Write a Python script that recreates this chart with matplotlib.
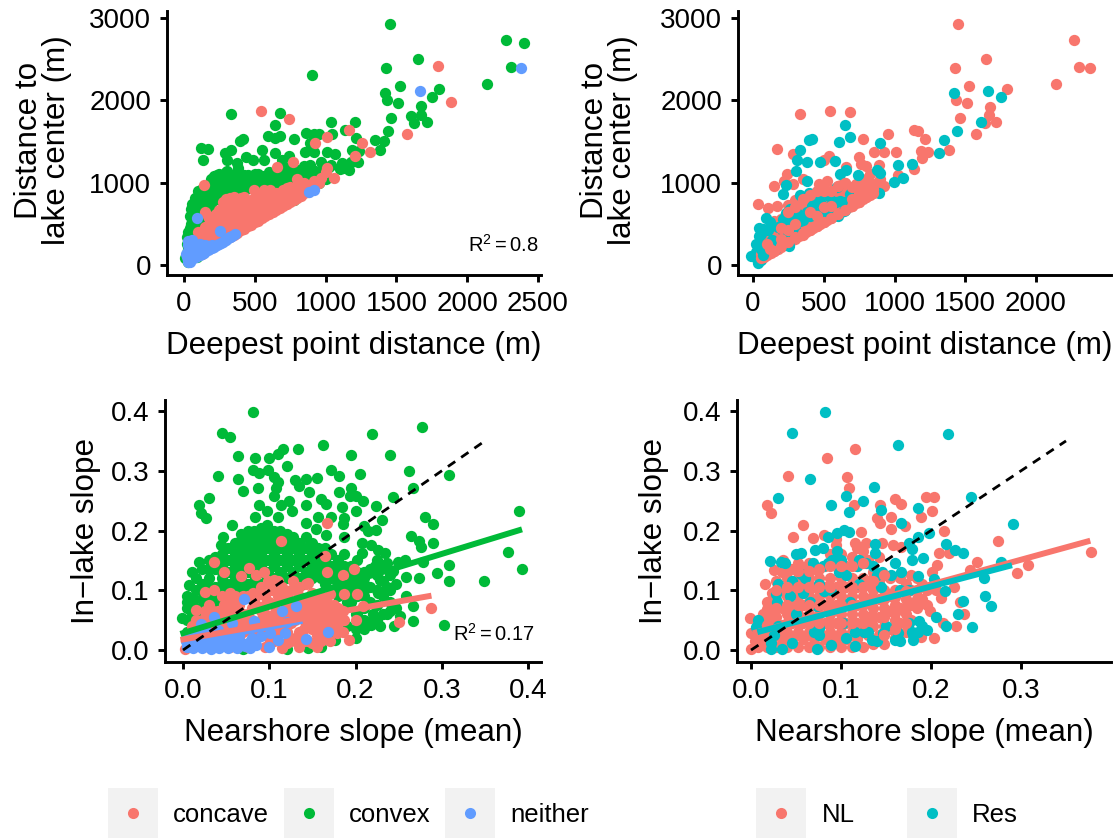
import matplotlib
matplotlib.use("Agg")
import matplotlib.pyplot as plt
from matplotlib.patches import Rectangle

plt.rcParams['font.family'] = ['Liberation Sans', 'DejaVu Sans']
plt.rcParams['mathtext.fontset'] = 'custom'
plt.rcParams['mathtext.rm'] = 'Liberation Sans'

RED, GREEN, BLUE, TEAL = '#F8766D', '#00BA38', '#619CFF', '#00BFC4'

# ---- top-left: deepest point distance vs distance to lake centre, by shape
convex_a = [(1452,2923),(2272,2730),(2404,2694),(1652,2500),(2307,2407),(1424,2387),(901,2302),(2140,2198),(1525,2177),(1799,2133),
 (1421,2093),(1754,2044),(1437,2008),(1510,1964),(1675,1931),(330,1831),(680,1851),(1602,1815),(1675,1823),(1464,1786),
 (1038,1742),(1211,1742),(1716,1738),(1627,1722),(645,1702),(1444,1633),(1135,1641),(865,1609),(921,1589),(952,1589),
 (1048,1589),(596,1569),(680,1569),(642,1540),(774,1528),(414,1536),(393,1512),(1216,1540),(1348,1520),(1414,1512),
 (117,1427),(173,1415),(332,1399),(553,1403),(891,1480),(1386,1403),(642,1359),(855,1367),(921,1367),(1013,1367),
 (1066,1351),(1188,1391),(1239,1379),(287,1359),(135,1278),(307,1278),(439,1311),(376,1238),(490,1278),(566,1278),
 (739,1319),(693,1278),(967,1246),(1036,1218),(1119,1238),(891,1210),(1231,1250),(1124,1177),(1162,1157),(302,1137),
 (236,1097),(383,1177),(490,1077),(566,1077),
 (20,150),(20,250),(20,340),(40,300),(40,450),(40,600),(60,400),(60,530),(60,620),(60,740),
 (100,500),(100,620),(100,750),(100,900),(130,700),(130,800),(130,920),(170,650),(170,780),(170,880),
 (210,870),(210,980),(210,1080),(250,880),(250,1000),(250,1100),(300,950),(300,1060),(300,1130),(350,900),
 (350,1000),(350,1090),(400,950),(400,1040),(450,930),(450,1030),(450,1090),(500,950),(500,1050),(500,1100),
 (550,980),(550,1060),(600,960),(600,1040),(600,1130),(650,950),(650,1060),(650,1140),(700,980),(700,1100),
 (700,1200),(750,1000),(750,1080),(750,1180),(800,1100),(800,1160),(850,1050),(850,1130),(850,1200),(900,1000),
 (900,1120),(950,1000),(950,1100),(780,790),(690,780),(10,90),(30,40),(90,100),(1000,1050),(1140,1220)]
convex_a_fill = [(30,200),(30,400),(50,350),(50,500),(50,680),(80,450),(80,560),(80,680),(80,820),(115,560),
 (115,680),(115,820),(150,700),(150,840),(190,720),(190,830),(190,950),(190,1050),(230,800),(230,930),
 (230,1040),(270,850),(270,950),(270,1060),(320,880),(320,1000),(320,1100),(375,950),(375,1040),(425,900),
 (425,1000),(425,1090),(475,980),(475,1060),(525,930),(525,1020),(525,1100),(575,1000),(575,1080),(625,1000),
 (625,1090),(675,1010),(675,1100),(725,1030),(725,1140),(775,1040),(775,1130),(825,1010),(825,1090),(875,1080),
 (875,1160),(925,1060),(925,1140),(975,1150),(1025,1190),(1100,1170),(1150,1200),(1180,1250)]
concave_a = [(543,1867),(744,1778),(1794,2423),(1886,1976),(1162,1641),(1013,1552),(926,1476),(1254,1480),(1315,1367),(1206,1327),
 (1576,1593),(769,1250),(657,1190),(140,968),(799,1044),(1061,1060),(495,915),(566,907),(604,907),(1000,1130),
 (970,1060),(950,1000),(1010,1180),(920,1020),(900,950),
 (100,120),(100,220),(100,320),(100,400),(150,170),(150,260),(150,360),(150,460),(150,650),(170,590),
 (200,220),(200,320),(200,420),(200,520),(250,270),(250,370),(250,470),(250,570),(250,670),(300,320),
 (300,420),(300,520),(300,620),(300,720),(300,800),(350,370),(350,470),(350,570),(350,670),(350,770),
 (350,830),(400,420),(400,520),(400,620),(400,720),(400,820),(450,470),(450,570),(450,670),(450,770),
 (500,520),(500,620),(500,720),(500,810),(550,570),(550,670),(550,770),(550,850),(600,620),(600,720),
 (600,820),(600,880),(650,670),(650,770),(650,870),(700,720),(700,820),(700,910),(750,770),(750,870),
 (750,950),(800,820),(800,910),(800,960),(850,870),(850,950),(850,1000)]
concave_a_fill = [(125,140),(125,230),(125,330),(175,190),(175,290),(175,390),(175,490),(175,570),(225,240),(225,340),
 (225,440),(225,540),(225,620),(275,290),(275,390),(275,490),(275,590),(275,690),(275,770),(325,340),
 (325,440),(325,540),(325,640),(325,740),(325,810),(375,390),(375,490),(375,590),(375,690),(375,790),
 (425,440),(425,540),(425,640),(425,740),(425,830),(475,490),(475,590),(475,690),(475,790),(525,540),
 (525,640),(525,740),(525,830),(575,590),(575,690),(575,790),(575,860),(625,640),(625,740),(625,840),
 (675,690),(675,790),(675,880),(725,740),(725,840),(725,930),(775,790),(775,880),(775,940),(825,840),
 (825,930),(875,890),(875,970)]
neither_a = [(2383,2387),(1665,2117),(89,573),(254,411),(363,379),(325,343),(881,883),(921,915),
 (20,100),(25,60),(30,40),(40,40),(40,100),(40,190),(35,280),(60,70),(60,130),(60,200),(60,270),(85,95),
 (85,160),(85,230),(110,120),(110,190),(110,260),(140,150),(140,220),(170,180),(170,235),(200,210),
 (200,240),(230,240),(260,265),(290,300),(310,325),(340,350)]
neither_a_fill = [(15,130),(30,80),(30,170),(30,240),(45,70),(45,150),(50,230),(70,100),(70,180),(70,250),
 (100,130),(100,210),(125,140),(125,200),(150,165),(150,240),(180,190),(215,225),(245,250),(275,285),
 (300,310),(325,345),(45,290),(60,300),(30,290)]

# ---- top-right: same axes, by lake type
res_b_low = [(30,70),(30,120),(20,160),(60,60),(60,140),(40,230),(55,300),(90,350),(90,200),(120,300),(-17,109),(32,28)]
nl_b = [(1450,2923),(2268,2730),(2307,2407),(2382,2387),(1650,2500),(1425,2387),(2139,2198),(1524,2177),(1797,2133),(1437,2004),
 (1509,1964),(1673,1923),(330,1831),(545,1867),(682,1855),(1462,1782),(1668,1823),(1717,1738),(1638,1722),(1135,1641),
 (1167,1633),(954,1589),(1579,1593),(1217,1536),(776,1528),(173,1415),(1385,1403),(857,1367),(924,1367),(1014,1367),
 (1239,1367),(1185,1379),(280,1351),(540,1319),(503,1270),(751,1311),(1197,1298),(763,1230),(801,1206),(887,1210),
 (657,1185),(1140,1169),(243,1105),(1024,1093),(825,1109),(354,1048),(221,1016),(280,988),(146,964),(520,1024),
 (466,984),(37,742),(107,694),(173,714),
 (60,90),(60,140),(100,120),(100,210),(100,330),(150,170),(150,270),(150,400),(150,540),(200,220),
 (200,330),(200,450),(200,560),(250,270),(250,380),(250,500),(250,620),(250,730),(300,320),(300,430),
 (300,540),(300,660),(300,790),(350,370),(350,480),(350,600),(350,720),(350,820),(400,420),(400,530),
 (400,650),(400,760),(400,850),(450,470),(450,580),(450,700),(450,810),(500,520),(500,630),(500,750),
 (500,860),(550,570),(550,680),(550,800),(550,900),(600,620),(600,730),(600,850),(600,960),(650,670),
 (650,780),(650,900),(650,1000),(700,720),(700,830),(700,950),(750,770),(750,880),(750,1000),(800,830),
 (800,930),(800,1040),(850,880),(850,990),(900,950),(900,1040)]
nl_b_fill = [(75,100),(75,170),(125,150),(125,250),(125,370),(175,200),(175,300),(175,430),(175,510),(225,250),
 (225,360),(225,480),(225,590),(275,300),(275,410),(275,530),(275,650),(325,350),(325,460),(325,580),
 (325,700),(375,400),(375,510),(375,640),(375,760),(425,450),(425,560),(425,690),(425,800),(475,500),
 (475,610),(475,730),(475,840),(525,550),(525,660),(525,780),(525,880),(575,600),(575,710),(575,830),
 (575,920),(625,650),(625,760),(625,880),(625,970),(675,700),(675,810),(675,930),(725,750),(725,860),
 (725,980),(775,800),(775,910),(775,1010),(825,850),(825,960),(875,900),(875,1000),(925,960)]
res_b = [(1663,2117),(1423,2093),(1752,2044),(1608,1742),(647,1702),(1442,1633),(682,1560),(419,1528),(399,1520),(607,1500),
 (1348,1520),(895,1480),(330,1399),(1311,1359),(312,1278),(379,1250),(473,1250),(577,1258),(1028,1218),(1123,1230),
 (305,1137),(657,1157),(615,1105),(739,1097),(875,1157),(900,1117),(379,1024),(230,972),(994,1008),(1063,1052),
 (597,944),(211,863),(330,855),(399,875),(471,867),(538,835),(689,863),(441,774),(617,774),(652,673),
 (528,673),(533,593),(230,633),(94,573),(354,552),(255,512),(40,448),(107,431),(211,411),(20,250),
 (69,117),(131,310),(330,532),(156,190),(255,230),(887,875)]
res_b_fill = [(60,200),(45,350),(60,380),(70,440),(120,520),(130,470),(180,460),(210,560),(240,590),(260,560),
 (280,640),(290,500),(320,620),(380,640),(400,600),(420,720),(470,760),(480,650),(520,700),(600,600),
 (640,660),(590,760),(650,760),(260,680),(300,440),(200,300),(250,400),(100,260),(710,850),(700,890)]
nl_b_top = [(400,420),(450,470),(500,520),(550,570),(600,620),(650,670),(700,720),(750,770),(800,830),(300,340),
 (250,280),(200,230),(150,170),(350,390),(700,800),(750,880),(800,930),(850,920),(850,880),(800,1000),
 (600,960),(550,900),(500,900),(450,900),(650,1000),(700,950),(200,450),(250,650),(300,700),(350,800),
 (400,850),(100,260),(120,200),(500,700),(450,600),(400,640),(550,720),(300,500),(250,420),(200,320)]

# ---- bottom-left: nearshore vs in-lake slope, by shape
convex_c = [(.081,.398),(.045,.364),(.055,.357),(.277,.374),(.219,.361),(.162,.343),(.133,.336),(.116,.336),(.110,.328),(.064,.325),
 (.084,.321),(.100,.321),(.195,.326),(.240,.326),(.121,.308),(.172,.302),(.262,.300),(.081,.302),(.098,.302),(.088,.297),
 (.041,.292),(.205,.295),(.181,.291),(.308,.293),(.064,.287),(.106,.290),(.143,.287),(.155,.288),(.130,.284),(.110,.282),
 (.070,.267),(.087,.271),(.108,.271),(.135,.274),(.146,.265),(.195,.271),(.181,.264),(.267,.272),(.105,.257),(.030,.255),
 (.193,.257),(.201,.257),(.209,.250),(.123,.250),(.243,.256),(.160,.252),(.166,.245),(.018,.243),(.088,.243),(.114,.243),
 (.143,.243),(.224,.241),(.184,.239),(.390,.233),(.126,.233),(.097,.232),(.200,.233),(.021,.230),(.027,.221),(.083,.223),
 (.110,.223),(.156,.222),(.172,.223),(.187,.221),(.280,.222),(.231,.217),(.142,.213),(.290,.211),(.186,.211),(.057,.209),
 (.154,.202),(.210,.208),(.224,.201),(.214,.200),(.166,.193),(.264,.191),(.046,.189),(.187,.190),(.274,.183),(.290,.179),
 (.208,.180),(.044,.175),(.218,.176),(.276,.172),(.377,.164),(.226,.168),(.234,.163),(.208,.162),(.278,.147),(.257,.151),
 (.249,.147),(.308,.143),(.393,.135),(.295,.129),(.236,.145),(.243,.133),(.222,.140),(.258,.123),(.274,.120),(.349,.116),
 (.308,.115),(.228,.118),(.236,.106),(.259,.091),(.226,.095),(.267,.073),(.252,.057),(.267,.049),(.245,.040),(.302,.042),
 (.228,.041),(.218,.042),(.236,.061),(.220,.061),(.205,.042),(.201,.020),(.176,.017),(.019,.148),(.010,.130),(.007,.109),
 (.005,.080),(-.001,.053),
 (.005,.030),(.005,.050),(.005,.070),(.005,.090),(.015,.040),(.015,.070),(.015,.100),(.015,.120),(.030,.060),(.030,.090),
 (.030,.120),(.030,.150),(.045,.080),(.045,.100),(.045,.120),(.045,.140),(.045,.160),(.060,.100),(.060,.120),(.060,.140),
 (.060,.160),(.060,.180),(.075,.110),(.075,.130),(.075,.150),(.075,.170),(.075,.190),(.075,.200),(.090,.110),(.090,.130),
 (.090,.150),(.090,.170),(.090,.190),(.090,.205),(.105,.120),(.105,.140),(.105,.160),(.105,.180),(.105,.200),(.120,.120),
 (.120,.140),(.120,.160),(.120,.180),(.120,.195),(.135,.120),(.135,.140),(.135,.160),(.135,.180),(.150,.120),(.150,.140),
 (.150,.160),(.150,.180),(.165,.110),(.165,.130),(.165,.150),(.165,.170),(.180,.090),(.180,.110),(.180,.130),(.180,.150),
 (.195,.080),(.195,.100),(.195,.120),(.195,.140),(.210,.050),(.210,.070),(.210,.090),(.210,.110),(.210,.130),(.225,.050),
 (.225,.075),(.225,.100),(.225,.125),(.225,.150),(.240,.080),(.240,.100),(.240,.125),(.240,.065),(.068,.140),(.083,.160),
 (.098,.170),(.083,.120),(.098,.130),(.068,.170),(.083,.185),(.113,.150),(.128,.150),(.143,.170),(.143,.130),(.158,.145),
 (.120,.002),(.160,.005),(.145,.004),(.070,.002)]
convex_c_fill = [(.012,.050),(.012,.085),(.022,.055),(.022,.085),(.022,.110),(.022,.135),(.037,.075),(.037,.105),(.037,.135),(.037,.155),
 (.052,.090),(.052,.110),(.052,.130),(.052,.150),(.052,.170),(.067,.100),(.067,.120),(.067,.155),(.067,.185),(.067,.195),
 (.082,.110),(.082,.140),(.082,.150),(.082,.175),(.082,.200),(.097,.120),(.097,.150),(.097,.180),(.097,.195),(.097,.210),
 (.112,.130),(.112,.170),(.112,.190),(.112,.200),(.127,.130),(.127,.170),(.127,.190),(.142,.150),(.142,.190),(.142,.120),
 (.157,.130),(.157,.170),(.157,.155),(.172,.120),(.172,.140),(.172,.160),(.187,.100),(.187,.120),(.187,.140),(.187,.160),
 (.202,.060),(.202,.090),(.202,.110),(.202,.130),(.202,.150),(.217,.045),(.217,.080),(.217,.105),(.217,.135),(.232,.060),
 (.232,.090),(.232,.115),(.232,.140),(.247,.070),(.247,.110),(.190,.040),(.200,.035),(.210,.035),(.200,.060),(.190,.080),
 (.060,.150),(.075,.140),(.075,.160),(.075,.180),(.090,.140),(.090,.160),(.090,.180),(.090,.200),(.105,.150),(.105,.170),
 (.105,.190),(.120,.150),(.120,.170),(.120,.190),(.135,.150),(.135,.170),(.150,.130),(.150,.150),(.150,.170),(.060,.130),
 (.060,.110),(.045,.110),(.045,.130),(.045,.150),(.030,.105),(.030,.135),(.165,.140),(.165,.160),(.180,.100),(.180,.120),
 (.180,.140),(.195,.090),(.195,.110),(.195,.130),(.210,.100),(.210,.120),(.010,.060),(.020,.070),(.020,.100),(.035,.090),
 (.050,.095),(.065,.110),(.125,.120),(.140,.110),(.160,.120),(.100,.110),(.115,.125),(.080,.100)]
concave_c = [(.167,.213),(.114,.182),(.036,.147),(.048,.130),(.076,.137),(.094,.130),(.067,.124),(.165,.158),(.167,.131),(.198,.136),
 (.185,.125),(.145,.113),(.202,.094),(.187,.094),(.170,.094),(.209,.074),(.288,.070),(.250,.047),(.200,.051),(.187,.051),
 (.192,.017),(.178,.028),(.026,.097),(.036,.101),(.048,.076),(.015,.067),(.127,.115),(.106,.118),(.081,.095),(.143,.111),
 (.085,.125),(.098,.115),(.115,.105),(.122,.095),(.103,.100),
 (.002,.002),(.008,.020),(.010,.040),(.020,.010),(.020,.030),(.022,.050),(.030,.005),(.030,.025),(.030,.055),(.040,.015),
 (.040,.040),(.040,.065),(.055,.005),(.055,.030),(.055,.060),(.055,.080),(.065,.018),(.065,.045),(.065,.075),(.075,.005),
 (.075,.035),(.075,.060),(.085,.018),(.085,.045),(.085,.075),(.095,.005),(.095,.030),(.095,.060),(.095,.090),(.105,.015),
 (.105,.045),(.105,.075),(.115,.003),(.115,.030),(.115,.060),(.115,.090),(.125,.015),(.125,.045),(.125,.075),(.135,.005),
 (.135,.030),(.135,.060),(.135,.090),(.145,.015),(.145,.040),(.145,.065),(.145,.085),(.155,.005),(.155,.025),(.155,.045),
 (.155,.065),(.155,.085),(.165,.025),(.165,.045),(.165,.065),(.165,.085),(.175,.040),(.175,.060),(.175,.075),(.185,.030),
 (.185,.050),(.185,.065)]
concave_c_fill = [(.010,.010),(.015,.050),(.025,.018),(.025,.040),(.035,.012),(.035,.040),(.035,.065),(.045,.025),(.048,.052),(.050,.072),
 (.060,.015),(.060,.045),(.060,.070),(.070,.030),(.070,.060),(.080,.012),(.080,.050),(.080,.070),(.090,.035),(.090,.065),
 (.100,.020),(.100,.050),(.100,.080),(.110,.030),(.110,.060),(.110,.090),(.120,.012),(.120,.045),(.120,.075),(.130,.020),
 (.130,.050),(.130,.080),(.140,.015),(.140,.050),(.140,.080),(.150,.012),(.150,.035),(.150,.055),(.150,.075),(.150,.095),
 (.160,.015),(.160,.035),(.160,.055),(.160,.075),(.160,.090),(.170,.015),(.170,.035),(.170,.055),(.170,.075),(.180,.035),
 (.180,.050),(.180,.070),(.125,.100),(.135,.105),(.110,.115),(.090,.105),(.070,.090),(.100,.110),
 (.030,.075),(.045,.090),(.055,.095),(.060,.090),(.025,.065),(.015,.030),(.085,.090),(.075,.090),(.090,.050),(.100,.035),
 (.110,.045),(.120,.030),(.130,.065),(.125,.060),(.140,.065),(.140,.035),(.105,.060),(.095,.075),(.080,.030),(.070,.045),
 (.060,.030),(.050,.040),(.045,.060),(.035,.030)]
neither_c = [(.071,.086),(.115,.065),(.131,.074),(.082,.049),(.057,.045),(.036,.055),(.021,.043),(.040,.034),(.120,.047),(.118,.028),
 (.168,.030),(.143,.018),(.100,.005),(.110,.017),(.077,.012),(.090,.023),(.101,.028),
 (.003,.015),(.005,.005),(.012,.003),(.014,.015),(.022,.003),(.024,.013),(.032,.002),(.034,.012),(.042,.003),(.045,.013),
 (.052,.004),(.055,.015),(.062,.004),(.066,.014),(.072,.006),(.078,.003),(.084,.016),(.030,.025),(.047,.024),
 (.008,.010),(.018,.008),(.028,.010),(.038,.008),(.048,.008),(.058,.010),(.068,.008),(.075,.012),(.085,.008),(.005,.020),
 (.012,.028),(.022,.025),(.035,.020),(.055,.025),(.065,.025),(.080,.020),(.025,.035)]

# ---- bottom-right: same axes, by lake type
nl_d = [(.378,.164),(.116,.337),(.084,.321),(.041,.292),(.107,.290),(.109,.272),(.018,.243),(.022,.229),(.114,.242),(.160,.253),
 (.167,.245),(.143,.243),(.194,.256),(.203,.256),(.201,.233),(.189,.223),(.140,.221),(.156,.222),(.143,.212),(.171,.208),
 (.155,.202),(.058,.209),(.214,.200),(.047,.189),(.069,.187),(.081,.193),(.122,.198),(.094,.186),(.115,.179),(.128,.179),
 (.146,.179),(.158,.176),(.167,.173),(.274,.183),(.209,.162),(.220,.162),(.251,.148),(.308,.143),(.296,.129),(.243,.134),
 (.207,.143),(.201,.131),(.226,.106),(.211,.087),(.232,.080),(.237,.060),(.199,.065),(.213,.045),(.228,.041),(.203,.020),
 (.189,.022),(-.001,.053),(.016,.111),(.026,.134),(.036,.151),
 (.000,.002),(.000,.028),(.008,.005),(.008,.030),(.008,.045),(.018,.005),(.018,.030),(.018,.055),(.018,.080),(.028,.005),
 (.028,.030),(.028,.055),(.028,.085),(.028,.115),(.040,.005),(.040,.030),(.040,.060),(.040,.090),(.040,.120),(.052,.005),
 (.052,.030),(.052,.060),(.052,.090),(.052,.120),(.052,.145),(.064,.005),(.064,.030),(.064,.060),(.064,.090),(.064,.120),
 (.064,.145),(.076,.005),(.076,.030),(.076,.060),(.076,.090),(.076,.120),(.088,.005),(.088,.030),(.088,.060),(.088,.090),
 (.088,.120),(.088,.160),(.100,.005),(.100,.030),(.100,.060),(.100,.090),(.100,.120),(.100,.160),(.112,.005),(.112,.030),
 (.112,.060),(.112,.090),(.112,.120),(.112,.155),(.124,.005),(.124,.030),(.124,.060),(.124,.090),(.124,.120),(.124,.165),
 (.136,.010),(.136,.040),(.136,.070),(.136,.100),(.136,.130),(.148,.010),(.148,.040),(.148,.070),(.148,.100),(.160,.020),
 (.160,.050),(.160,.075),(.160,.100),(.172,.030),(.172,.060),(.172,.085),(.172,.110),(.184,.070),(.184,.100),(.184,.120),
 (.196,.075),(.196,.100),(.206,.100)]
nl_d_fill = [(.004,.015),(.013,.018),(.013,.042),(.013,.060),(.023,.018),(.023,.042),(.023,.068),(.023,.095),(.034,.018),(.034,.042),
 (.034,.070),(.034,.100),(.034,.130),(.046,.018),(.046,.045),(.046,.075),(.046,.105),(.046,.135),(.058,.018),(.058,.045),
 (.058,.075),(.058,.105),(.058,.135),(.070,.018),(.070,.045),(.070,.075),(.070,.105),(.070,.135),(.082,.018),(.082,.045),
 (.082,.075),(.082,.105),(.082,.140),(.094,.018),(.094,.045),(.094,.075),(.094,.105),(.094,.140),(.094,.175),(.106,.018),
 (.106,.045),(.106,.075),(.106,.105),(.106,.140),(.118,.018),(.118,.045),(.118,.075),(.118,.105),(.118,.140),(.118,.170),
 (.130,.025),(.130,.055),(.130,.085),(.130,.115),(.130,.150),(.142,.025),(.142,.055),(.142,.085),(.142,.115),(.142,.155),
 (.154,.035),(.154,.065),(.154,.090),(.154,.120),(.166,.045),(.166,.070),(.166,.098),(.166,.120),(.178,.050),(.178,.075),
 (.178,.100),(.178,.125),(.190,.085),(.190,.110)]
res_d = [(.082,.398),(.045,.364),(.219,.361),(.163,.343),(.065,.287),(.137,.273),(.030,.255),(.105,.258),(.244,.256),(.124,.250),
 (.089,.243),(.186,.238),(.144,.235),(.109,.231),(.167,.213),(.291,.211),(.198,.196),(.103,.201),(.109,.198),(.095,.196),
 (.085,.190),(.186,.190),(.217,.177),(.227,.167),(.235,.163),(.175,.179),(.179,.169),(.138,.178),(.138,.162),(.071,.167),
 (.080,.171),(.021,.149),(.033,.148),(.038,.145),(.050,.161),(.055,.162),(.278,.147),(.191,.154),(.179,.150),(.160,.145),
 (.167,.131),(.186,.124),(.203,.119),(.259,.121),(.215,.098),(.260,.090),(.236,.082),(.267,.073),(.230,.060),(.205,.055),
 (.187,.049),(.245,.039),(.217,.041),(.196,.034),(.180,.026),(.180,.017),(.028,.094),(.029,.080),(.043,.090),(.055,.128),
 (.098,.131),(.069,.145),(.085,.145),(.100,.151),(.118,.140),(.128,.145),(.140,.126),(.144,.106),(.081,.098),(.089,.101),
 (.058,.095),(.008,.050),(.005,.038),(.022,.012),(.034,.001),(.045,.012),(.075,.037),(.102,.045),(.073,.073),(.126,.031),
 (.134,.017),(.147,.028),(.163,.028),(.115,.007),(.089,.009),(.160,.016),(.175,.045),(.022,.001),(.073,.002),(.179,.031)]
res_d_fill = [(.030,.110),(.045,.115),(.060,.120),(.075,.110),(.090,.150),(.105,.125),(.095,.165),(.120,.150),(.135,.140),(.110,.080),
 (.120,.110),(.065,.080),(.080,.140),(.145,.130),(.155,.125),(.165,.100),(.175,.100),(.150,.040),(.165,.015),(.185,.030),
 (.190,.040),(.115,.030),(.105,.020),(.070,.030),(.075,.025),(.130,.030),(.140,.015),(.050,.060),(.030,.040),(.025,.025)]
nl_d_top = [(.040,.045),(.040,.075),(.040,.105),(.052,.045),(.052,.075),(.052,.105),(.052,.132),(.064,.045),(.064,.075),(.064,.105),
 (.064,.132),(.076,.045),(.076,.075),(.076,.105),(.076,.135),(.088,.045),(.088,.075),(.088,.105),(.088,.140),(.100,.045),
 (.100,.075),(.100,.105),(.100,.140),(.112,.045),(.112,.075),(.112,.105),(.112,.140),(.124,.045),(.124,.075),(.124,.105),
 (.124,.145),(.136,.055),(.136,.085),(.136,.115),(.148,.025),(.148,.055),(.148,.085),(.148,.125),(.160,.035),(.160,.062),
 (.160,.088),(.172,.045),(.172,.072),(.172,.098),(.184,.085),(.028,.070),(.028,.100),(.018,.042),(.018,.068)]

# ---- fitted lines (start, end)
fit_convex_x, fit_convex_y = [-.003, .393], [.027, .202]
fit_concave_x, fit_concave_y = [-.003, .288], [.017, .091]
fit_neither_x, fit_neither_y = [.002, .135], [.012, .048]
fit_nl_x, fit_nl_y = [.002, .377], [.028, .183]
fit_res_x, fit_res_y = [.007, .290], [.030, .142]
one_to_one = [0, .35]

x_ticks_a = [0, 500, 1000, 1500, 2000, 2500]
x_ticks_b = [0, 500, 1000, 1500, 2000]
y_ticks_top = [0, 1000, 2000, 3000]
x_ticks_c = [0.0, 0.1, 0.2, 0.3, 0.4]
x_ticks_d = [0.0, 0.1, 0.2, 0.3]
y_ticks_bot = [0.0, 0.1, 0.2, 0.3, 0.4]

W, H = 1113, 838
fig = plt.figure(figsize=(W / 100, H / 100), dpi=100)

def make_ax(l, r, t, b):
    ax = fig.add_axes([l / W, 1 - b / H, (r - l) / W, (b - t) / H])
    ax.patch.set_alpha(0)
    for s in ('top', 'right'):
        ax.spines[s].set_visible(False)
    for s in ('left', 'bottom'):
        ax.spines[s].set_linewidth(2.1)
    ax.tick_params(width=2.1, length=5, labelsize=20, pad=6.5, color='black')
    return ax

def pts(ax, data, color, z):
    ax.scatter([p[0] for p in data], [p[1] for p in data], s=66, c=color, linewidths=0, zorder=z, clip_on=False)

def labels(ax, xlabel, ylabel, ypx, l, r, yfrac):
    ax.set_xlabel(xlabel, fontsize=22.6, labelpad=10)
    ax.set_ylabel(ylabel, fontsize=22.6, linespacing=0.95, va='center')
    ax.yaxis.set_label_coords((ypx - l) / (r - l), yfrac)

a = make_ax(167, 541, 11, 275)
a.set_xlim(-120, 2521); a.set_ylim(-121, 3085)
pts(a, convex_a, GREEN, 3); pts(a, convex_a_fill, GREEN, 3)
pts(a, concave_a, RED, 4); pts(a, concave_a_fill, RED, 4)
pts(a, neither_a, BLUE, 5); pts(a, neither_a_fill, BLUE, 5)
a.set_xticks(x_ticks_a); a.set_yticks(y_ticks_top)
labels(a, 'Deepest point distance (m)', 'Distance to\nlake center (m)', 43, 167, 541, 0.51)
a.text(2505, 240, 'R$^{2}$$\\,$=$\\,$0.8', fontsize=14.5, ha='right', va='center')

b = make_ax(738, 1111, 11, 275)
b.set_xlim(-106, 2530); b.set_ylim(-121, 3085)
pts(b, res_b_low, TEAL, 3)
pts(b, nl_b, RED, 4); pts(b, nl_b_fill, RED, 4)
pts(b, res_b, TEAL, 5); pts(b, res_b_fill, TEAL, 5)
pts(b, nl_b_top, RED, 5.5)
b.set_xticks(x_ticks_b); b.set_yticks(y_ticks_top)
labels(b, 'Deepest point distance (m)', 'Distance to\nlake center (m)', 609, 738, 1111, 0.51)

c = make_ax(165, 541, 400, 662)
c.set_xlim(-.0209, .415); c.set_ylim(-.02, .4185)
pts(c, convex_c, GREEN, 3); pts(c, convex_c_fill, GREEN, 3)
pts(c, concave_c, RED, 4); pts(c, concave_c_fill, RED, 4)
pts(c, neither_c, BLUE, 5)
c.plot(fit_neither_x, fit_neither_y, color=BLUE, lw=4.3, zorder=6)
c.plot(fit_concave_x, fit_concave_y, color=RED, lw=4.3, zorder=6, solid_capstyle='butt')
c.plot(fit_convex_x, fit_convex_y, color=GREEN, lw=4.3, zorder=6, solid_capstyle='butt')
c.plot(one_to_one, one_to_one, color='black', lw=2.0, ls=(0, (3.2, 2.6)), zorder=7)
c.set_xticks(x_ticks_c); c.set_yticks(y_ticks_bot)
labels(c, 'Nearshore slope (mean)', 'In\u2212lake slope', 86, 165, 541, 0.5)
c.text(.408, .027, 'R$^{2}$$\\,$=$\\,$0.17', fontsize=14.5, ha='right', va='center')

d = make_ax(737, 1111, 400, 662)
d.set_xlim(-.0156, .4); d.set_ylim(-.02, .4185)
pts(d, nl_d, RED, 3); pts(d, nl_d_fill, RED, 3)
pts(d, res_d, TEAL, 4); pts(d, res_d_fill, TEAL, 4)
pts(d, nl_d_top, RED, 5)
d.plot(fit_nl_x, fit_nl_y, color=RED, lw=4.3, zorder=6, solid_capstyle='butt')
d.plot(fit_res_x, fit_res_y, color=TEAL, lw=4.3, zorder=6, solid_capstyle='butt')
d.plot(one_to_one, one_to_one, color='black', lw=2.0, ls=(0, (3.2, 2.6)), zorder=7)
d.set_xticks(x_ticks_d); d.set_yticks(y_ticks_bot)
labels(d, 'Nearshore slope (mean)', 'In\u2212lake slope', 654, 737, 1111, 0.5)

# legends
def legend_entry(x0, label, color, text_x):
    fig.add_artist(Rectangle((x0 / W, 0), 50 / W, 50 / H, transform=fig.transFigure,
                             facecolor='#F2F2F2', edgecolor='none'))
    fig.add_artist(plt.Line2D([(x0 + 25) / W], [1 - 813 / H], marker='o', ms=8, color=color,
                              mew=0, transform=fig.transFigure))
    fig.text(text_x / W, 1 - 815 / H, label, fontsize=18.5, va='center', ha='left')

for x0, lab, col, tx in [(108, 'concave', RED, 173), (284, 'convex', GREEN, 349), (445, 'neither', BLUE, 510),
                         (756, 'NL', RED, 822), (907, 'Res', TEAL, 972)]:
    legend_entry(x0, lab, col, tx)

fig.savefig('out.png', dpi=100)
